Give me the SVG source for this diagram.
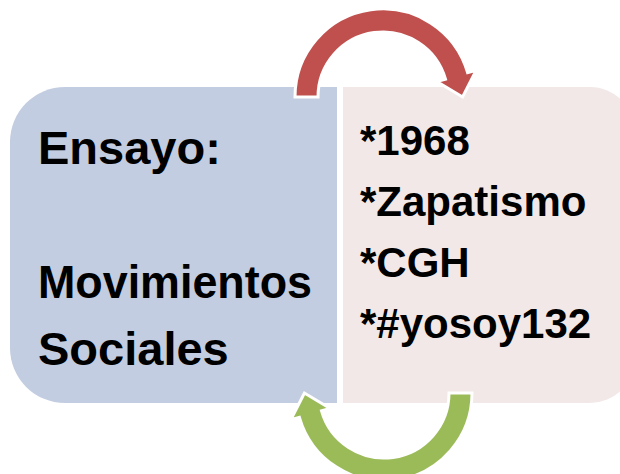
<svg xmlns="http://www.w3.org/2000/svg" width="620" height="474" viewBox="0 0 620 474">
<style>
.lbl{font-family:"Liberation Sans",Arial,sans-serif;font-weight:bold;fill:#000}
.l{font-size:47px}
.r{font-size:42px}
.arrow{stroke:#fff;stroke-width:3;stroke-linejoin:miter}
</style>
<defs>
<path id="arc" d="M 295 97 A 88 88 0 0 1 467.6 72.7 L 476.2 70.3 L 462.6 97 L 436.8 81.5 L 445.5 79.1 A 65 65 0 0 0 318 97 Z"/>
</defs>
<rect width="620" height="474" fill="#fff"/>
<g id="node-ensayo">
<path d="M 65 87 H 337 V 403 H 65 A 55 55 0 0 1 10 348 V 142 A 55 55 0 0 1 65 87 Z" fill="#C3CDE1"/>
<text class="lbl l" x="38" y="164">Ensayo:</text>
<text class="lbl l" x="38" y="298" textLength="274" lengthAdjust="spacingAndGlyphs">Movimientos</text>
<text class="lbl l" x="38" y="365">Sociales</text>
</g>
<g id="node-temas">
<path d="M 343 87 H 590 A 45 45 0 0 1 635 132 V 358 A 45 45 0 0 1 590 403 H 343 Z" fill="#F2E8E8"/>
<text class="lbl r" x="360" y="155">*1968</text>
<text class="lbl r" x="360" y="216">*Zapatismo</text>
<text class="lbl r" x="360" y="277">*CGH</text>
<text class="lbl r" x="360" y="338">*#yosoy132</text>
</g>
<g id="connectors">
<use href="#arc" class="arrow" fill="#C0504D"/>
<use href="#arc" class="arrow" fill="#9BBB59" transform="rotate(180 383.5 245)"/>
</g>
</svg>
